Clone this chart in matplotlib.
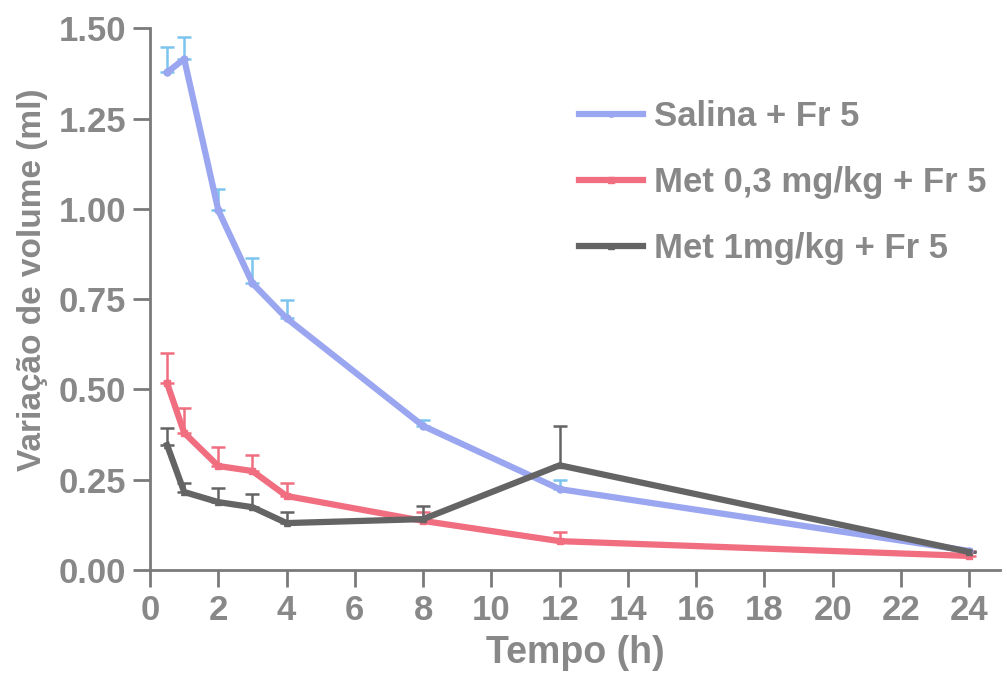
import numpy as np
import matplotlib.pyplot as plt

# data (time in h, volume change in ml, upper SEM)
tempo = [0.5, 1, 2, 3, 4, 8, 12, 24]

salina = [1.378, 1.415, 0.996, 0.794, 0.697, 0.399, 0.224, 0.053]
salina_err = [0.07, 0.06, 0.06, 0.07, 0.05, 0.016, 0.025, 0.0]

met03 = [0.517, 0.380, 0.288, 0.274, 0.205, 0.136, 0.080, 0.039]
met03_err = [0.083, 0.068, 0.052, 0.044, 0.035, 0.025, 0.025, 0.015]

met1 = [0.346, 0.216, 0.188, 0.174, 0.130, 0.141, 0.290, 0.050]
met1_err = [0.047, 0.024, 0.039, 0.036, 0.030, 0.036, 0.108, 0.0]

labels = ['Salina + Fr 5', 'Met 0,3 mg/kg + Fr 5', 'Met 1mg/kg + Fr 5']

text_color = '#888888'
axis_color = '#7a7a7a'
plt.rcParams['font.family'] = ['Liberation Sans', 'DejaVu Sans']
plt.rcParams['font.weight'] = 'bold'

fig = plt.figure(figsize=(10.07, 6.73), dpi=100)
ax = fig.add_axes([0.149, 0.153, 0.844, 0.805])

series = [
    (salina, salina_err, '#9aa6f0', '#7cc4ee', 'o'),
    (met03, met03_err, '#f06e80', '#f06e80', 's'),
    (met1, met1_err, '#646464', '#646464', '^'),
]

for (vals, err, col, ecol, mk), lab in zip(series, labels):
    lower = np.zeros(len(err))
    ax.errorbar(tempo, vals, yerr=[lower, err], fmt='none', ecolor=ecol,
                elinewidth=1.8, capsize=5, capthick=1.8, zorder=2)
    ax.plot(tempo, vals, color=col, linewidth=4.5, marker=mk, markersize=5,
            label=lab, zorder=3)

ax.set_xlim(0, 24.9)
ax.set_ylim(0, 1.5)
ax.set_xticks(np.arange(0, 25, 2))
ax.set_yticks([0, 0.25, 0.5, 0.75, 1.0, 1.25, 1.5])
ax.set_yticklabels(['0.00', '0.25', '0.50', '0.75', '1.00', '1.25', '1.50'])

for side in ['top', 'right']:
    ax.spines[side].set_visible(False)
for side in ['left', 'bottom']:
    ax.spines[side].set_color(axis_color)
    ax.spines[side].set_linewidth(2)

ax.tick_params(axis='both', direction='out', length=12, width=2,
               color=axis_color, labelcolor=text_color, labelsize=25, pad=5)

ax.set_xlabel('Tempo (h)', fontsize=27, color=text_color, fontweight='bold', labelpad=6)
ax.set_ylabel('Variação de volume (ml)', fontsize=24, color=text_color,
              fontweight='bold')
ax.yaxis.set_label_coords(-0.12, 0.535)

leg = ax.legend(loc='upper left', bbox_to_anchor=(0.468, 0.925), frameon=False,
                fontsize=25, handlelength=1.85, labelspacing=0.95,
                handletextpad=0.3, markerscale=0.8)
for t in leg.get_texts():
    t.set_color(text_color)
    t.set_fontweight('bold')

fig.savefig('out.png', dpi=100)
